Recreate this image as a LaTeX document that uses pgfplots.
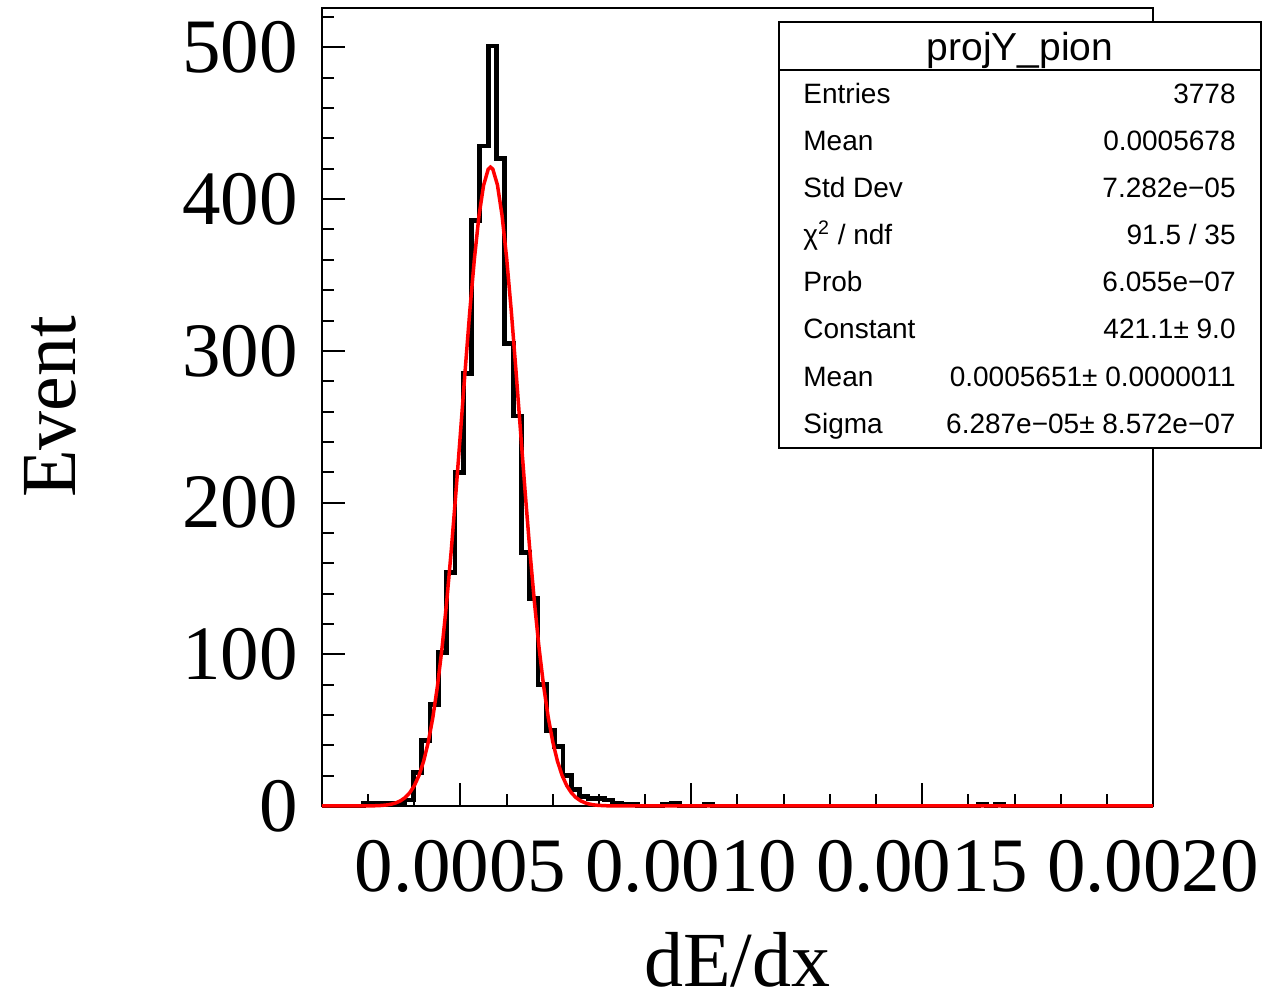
\documentclass[border=0pt]{standalone}
\usepackage{pgfplots}
\pgfplotsset{compat=1.18}
\usepackage{fontspec}
\setmainfont{Liberation Serif}
\newfontfamily\statfont{Liberation Sans}
\begin{document}
\begin{tikzpicture}
\path[use as bounding box] (-161pt,-99.5pt) rectangle (473pt,403pt);
\begin{axis}[
  at={(0,0)}, anchor=south west,
  scale only axis, width=415.5pt, height=399pt,
  xmin=0.0002, xmax=0.002, ymin=0, ymax=526,
  axis line style={line width=1pt},
  tick style={line width=1pt, black},
  major tick length=11.5pt, minor tick length=6pt,
  tick align=inside, tick pos=left,
  xtick={0.0005,0.001,0.0015,0.002},
  xticklabels={0.0005,0.0010,0.0015,0.0020},
  minor xtick={0.0003,0.0004,0.0006,0.0007,0.0008,0.0009,0.0011,0.0012,0.0013,0.0014,0.0016,0.0017,0.0018,0.0019},
  ytick={0,100,200,300,400,500},
  yticklabels={0,100,200,300,400,500},
  minor ytick={20,40,60,80,120,140,160,180,220,240,260,280,320,340,360,380,420,440,460,480,520},
  scaled x ticks=false, scaled y ticks=false,
  tick label style={font=\fontsize{38.5}{38.5}\selectfont},
  yticklabel style={anchor=east, inner sep=0pt, xshift=-12pt},
  xticklabel style={anchor=north, inner sep=0pt, yshift=-17pt},
  xlabel={dE/dx}, ylabel={Event},
  label style={font=\fontsize{39}{39}\selectfont},
  xlabel style={at={(axis description cs:0.5,-0.2256)}, anchor=base, inner sep=0pt},
  ylabel style={at={(axis description cs:-0.2972,0.5)}, anchor=base, inner sep=0pt},
  clip=false,
]
% histogram (bin width 1.8e-5, left edges)
\addplot[const plot, black, line width=2.4pt, line join=miter] table {
x y
0.000200 0
0.000290 2
0.000380 4
0.000398 22
0.000416 43
0.000434 67
0.000452 101
0.000470 154
0.000488 220
0.000506 285
0.000524 386
0.000542 435
0.000560 501
0.000578 427
0.000596 305
0.000614 257
0.000632 167
0.000650 137
0.000668 80
0.000686 50
0.000704 39
0.000722 20
0.000740 11
0.000758 6
0.000776 5
0.000794 5
0.000812 4
0.000830 2
0.000848 1
0.000866 1
0.000884 0
0.000938 1
0.000956 2
0.000974 0
0.001028 1
0.001046 0
0.001622 1
0.001640 0
0.001658 1
0.001676 0
0.002000 0
};
% gaussian fit curve
\addplot[red, line width=1.75pt] coordinates {
(0.00020,0) (0.00028,0.01) (0.00030,0.058) (0.00031,0.112) (0.00032,0.211) (0.00033,0.387)
(0.00034,0.693) (0.00035,1.21) (0.00036,2.06) (0.00037,3.41) (0.00038,5.52)
(0.00039,8.71) (0.00040,13.39) (0.00041,20.08) (0.00042,29.36) (0.00043,41.84)
(0.00044,58.14) (0.00045,78.80) (0.00046,104.1) (0.00047,134.2) (0.00048,168.5)
(0.00049,206.3) (0.00050,246.3) (0.00051,286.8) (0.00052,325.6) (0.00053,360.3)
(0.00054,388.9) (0.00055,409.1) (0.00056,419.7) (0.000565,421.1) (0.00057,419.8)
(0.00058,409.4) (0.00059,389.3) (0.00060,361.0) (0.00061,326.3) (0.00062,287.6)
(0.00063,247.2) (0.00064,207.1) (0.00065,169.2) (0.00066,134.8) (0.00067,104.7)
(0.00068,79.25) (0.00069,58.53) (0.00070,42.15) (0.00071,29.57) (0.00072,20.24)
(0.00073,13.50) (0.00074,8.79) (0.00075,5.57) (0.00076,3.45) (0.00077,2.08)
(0.00078,1.22) (0.00079,0.70) (0.00080,0.39) (0.00082,0.11) (0.00085,0.01)
(0.00090,0) (0.00200,0)
};
\end{axis}
% statistics box
\draw[line width=0.75pt, fill=white] (228.5pt,179pt) rectangle (469.5pt,392pt);
\draw[line width=0.75pt] (228.5pt,368pt) -- (469.5pt,368pt);
\node[font=\statfont\fontsize{19.5}{19.5}\selectfont, anchor=base, inner sep=0pt] at (349pt,372.5pt) {projY\_pion};
\begin{scope}[every node/.style={font=\statfont\fontsize{14}{14}\selectfont, inner sep=0pt}]
\node[anchor=base west] at (240.5pt,351pt) {Entries};
\node[anchor=base east] at (457pt,351pt) {3778};
\node[anchor=base west] at (240.5pt,327.5pt) {Mean};
\node[anchor=base east] at (457pt,327.5pt) {0.0005678};
\node[anchor=base west] at (240.5pt,304pt) {Std Dev};
\node[anchor=base east] at (457pt,304pt) {7.282e−05};
\node[anchor=base west] at (240.5pt,280.5pt) {χ\textsuperscript{2} / ndf};
\node[anchor=base east] at (457pt,280.5pt) {91.5 / 35};
\node[anchor=base west] at (240.5pt,257pt) {Prob};
\node[anchor=base east] at (457pt,257pt) {6.055e−07};
\node[anchor=base west] at (240.5pt,233.5pt) {Constant};
\node[anchor=base east] at (457pt,233.5pt) {421.1± 9.0};
\node[anchor=base west] at (240.5pt,209.5pt) {Mean};
\node[anchor=base east] at (457pt,209.5pt) {0.0005651± 0.0000011};
\node[anchor=base west] at (240.5pt,186pt) {Sigma};
\node[anchor=base east] at (457pt,186pt) {6.287e−05± 8.572e−07};
\end{scope}
\end{tikzpicture}
\end{document}
